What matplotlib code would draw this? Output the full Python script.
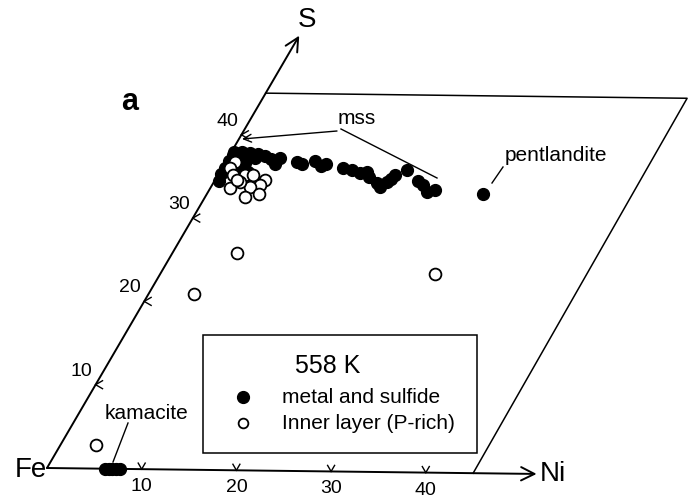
import numpy as np
import matplotlib
matplotlib.use('Agg')
import matplotlib.pyplot as plt
from matplotlib.transforms import Affine2D
from matplotlib.patches import Rectangle

plt.rcParams['font.family'] = ['Liberation Sans', 'DejaVu Sans']

# Datos: composición (Ni, S) de los puntos
metal_ni = [0.3, 0.3, 0.3, 0.3, 0.5, 0.3, 1.1, 2.0, 2.9, 3.8, 4.6, 5.3, 1.1, 2.1, 2.9,
            2.2, 3.0, 5.5, 7.5, 8.1, 9.3, 10.3, 10.7, 12.7, 13.7, 14.8, 15.4, 15.9,
            17.2, 17.7, 18.1, 18.4, 18.6, 19.5, 21.4, 22.1, 22.9, 23.7]
metal_s = [37.6, 36.8, 36.0, 35.3, 34.5, 37.9, 37.9, 37.8, 37.7, 37.5, 37.1, 36.6, 37.0, 36.7, 37.2,
           36.0, 35.6, 37.3, 36.8, 36.6, 37.0, 36.4, 36.6, 36.2, 36.0, 35.6, 35.8, 35.2,
           34.4, 34.0, 34.6, 35.0, 35.4, 36.1, 34.7, 34.3, 33.5, 33.7]

# pentlandita y kamacita
pent_ni = [28.9]
pent_s = [33.3]
kam_ni = [6.1, 6.5, 6.9, 7.3, 7.7]
kam_s = [0.0, 0.0, 0.0, 0.0, 0.0]

# capa interna (rica en P)
inner_ni = [1.0, 0.8, 1.6, 2.8, 3.7, 5.3, 5.0, 4.1, 2.7, 2.1, 4.2, 5.4, 2.3,
            3.7, 4.7, 6.8, 28.8]
inner_s = [36.8, 36.0, 35.2, 35.2, 35.2, 34.6, 34.0, 33.8, 34.4, 33.6, 32.6, 33.0, 34.6,
           2.8, 21.0, 25.9, 23.7]

ticks = [10, 20, 30, 40]

fig = plt.figure(figsize=(6.92, 4.98), dpi=100)
ax = fig.add_axes([0, 0, 1, 1])
ax.set_xlim(0, 692)
ax.set_ylim(498, 0)
ax.axis('off')

# transformación oblicua (Ni horizontal, S a ~60 grados)
T = Affine2D.from_values(9.47, 0.115, 4.86, -8.33, 47, 468)
tern = T + ax.transData

# ejes con flecha
arrow = dict(arrowstyle='->', lw=1.4, color='black', mutation_scale=24, shrinkA=0, shrinkB=0)
ax.annotate('', xy=(0, 51.9), xytext=(0, 0), xycoords=tern, textcoords=tern, arrowprops=arrow)
ax.annotate('', xy=(51.7, 0), xytext=(0, 0), xycoords=tern, textcoords=tern, arrowprops=arrow)

# paralelogramo
ax.plot([0, 44.5, 45], [45, 45, 0], color='black', lw=1.1, transform=tern)

# marcas de los ejes
for t in ticks:
    x0, y0 = T.transform((t, 0))
    for ang in (60, 120):
        a = np.radians(ang)
        ax.plot([x0, x0 + 7 * np.cos(a)], [y0, y0 - 7 * np.sin(a)], color='black', lw=1.0)
    ax.text(x0, y0 + 9, str(t), ha='center', va='top', fontsize=14)

    x1, y1 = T.transform((0, t))
    for ang in (30, -30):
        a = np.radians(ang)
        ax.plot([x1, x1 + 8 * np.cos(a)], [y1, y1 - 8 * np.sin(a)], color='black', lw=1.0)
    ax.text(x1 - 3, y1 - 5, str(t), ha='right', va='bottom', fontsize=14)

# puntos
ax.plot(metal_ni + pent_ni + kam_ni, metal_s + pent_s + kam_s, 'o', color='black',
        ms=8.5, transform=tern)
ax.plot(inner_ni, inner_s, 'o', mfc='white', mec='black', mew=1.3, ms=8.5, transform=tern)

# textos
ax.text(307, 20, 'S', ha='center', va='center', fontsize=20)
ax.text(31, 470, 'Fe', ha='center', va='center', fontsize=20)
ax.text(540, 474, 'Ni', ha='left', va='center', fontsize=20)
ax.text(130, 102, 'a', ha='center', va='center', fontsize=22, fontweight='bold')

ax.text(357, 118, 'mss', ha='center', va='center', fontsize=15)
ax.annotate('', xy=(242, 139), xytext=(337, 131),
            arrowprops=dict(arrowstyle='->', lw=1.0, color='black', mutation_scale=14,
                            shrinkA=0, shrinkB=0))
ax.plot([341, 437], [129, 178], color='black', lw=1.0)

ax.text(505, 155, 'pentlandite', ha='left', va='center', fontsize=15)
ax.plot([503, 492], [167, 183], color='black', lw=1.0)

ax.text(105, 413, 'kamacite', ha='left', va='center', fontsize=15)
ax.plot([128, 113], [423, 462], color='black', lw=1.0)

# leyenda
ax.add_patch(Rectangle((203, 335), 274, 118, fill=False, ec='black', lw=1.1))
ax.text(295, 366, '558 K', ha='left', va='center', fontsize=18)
ax.plot([243], [397], 'o', color='black', ms=8.5)
ax.text(282, 397, 'metal and sulfide', ha='left', va='center', fontsize=15)
ax.plot([243], [423], 'o', mfc='white', mec='black', mew=1.3, ms=7)
ax.text(282, 423, 'Inner layer (P-rich)', ha='left', va='center', fontsize=15)

fig.savefig('out.png', dpi=100)
